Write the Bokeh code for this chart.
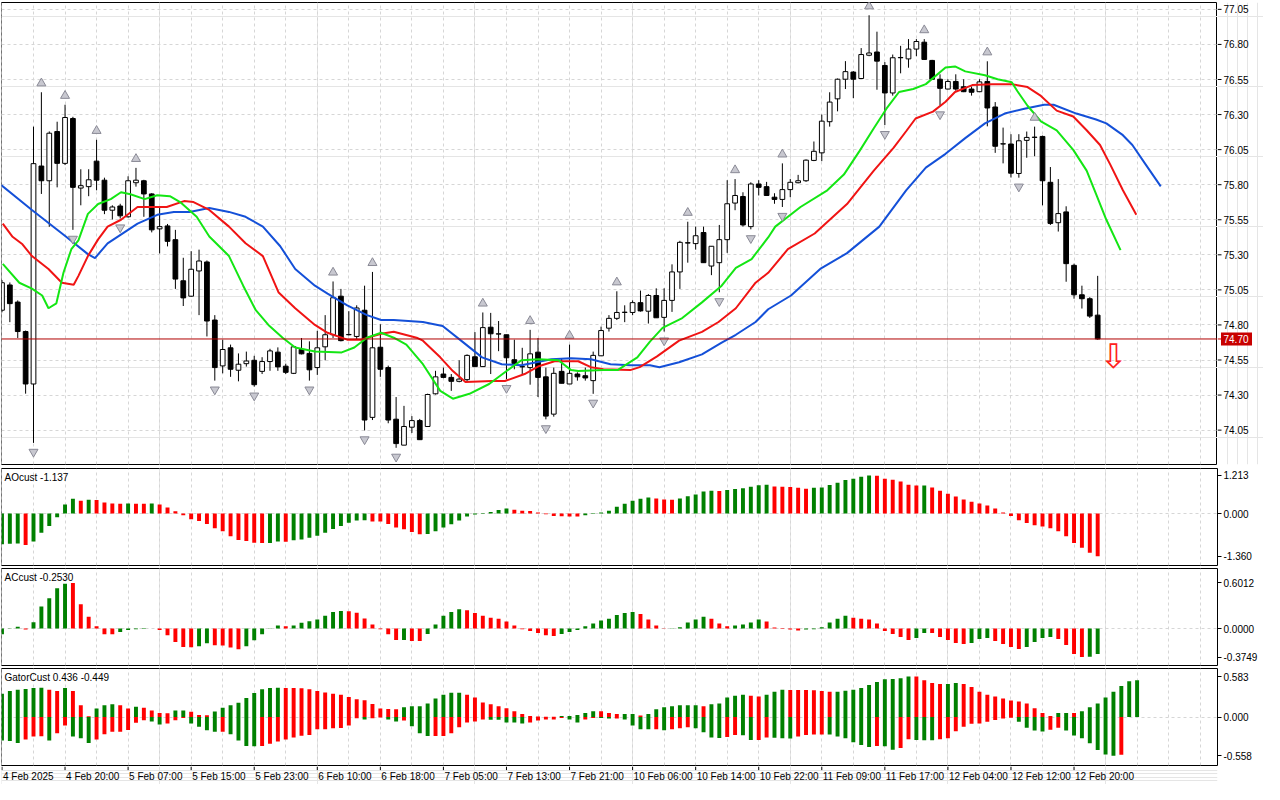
from bokeh.plotting import figure
from bokeh.layouts import column, row
from bokeh.models import Range1d, FixedTicker, Span, Label, Grid, ColumnDataSource, PrintfTickFormatter
from bokeh.core.properties import value
from bokeh.embed import file_html
from bokeh.resources import INLINE

# ---------------- data ----------------
open_ = [74.905, 75.085, 74.963, 74.753, 74.379, 75.933, 75.828, 76.179, 75.952, 76.272,
         75.776, 75.786, 75.968, 75.832, 75.618, 75.648, 75.571, 75.814, 75.828, 75.734,
         75.485, 75.506, 75.408, 75.115, 75.005, 75.185, 75.249, 74.835, 74.508, 74.637,
         74.477, 74.524, 74.548, 74.469, 74.539, 74.606, 74.506, 74.455, 74.625, 74.597,
         74.496, 74.644, 74.730, 75.005, 74.730, 74.718, 74.905, 74.141, 74.641, 74.496,
         74.128, 73.943, 74.071, 74.118, 74.076, 74.309, 74.450, 74.426, 74.398, 74.410,
         74.573, 74.503, 74.784, 74.735, 74.730, 74.552, 74.501, 74.496, 74.606, 74.430,
         74.164, 74.469, 74.379, 74.450, 74.438, 74.403, 74.580, 74.777, 74.847, 74.889,
         74.889, 74.959, 74.898, 75.010, 74.854, 74.975, 75.178, 75.386, 75.380, 75.459,
         75.220, 75.244, 75.408, 75.669, 75.716, 75.501, 75.805, 75.786, 75.711, 75.695,
         75.765, 75.814, 75.828, 75.973, 76.027, 76.249, 76.412, 76.552, 76.603, 76.557,
         76.723, 76.746, 76.650, 76.454, 76.705, 76.697, 76.767, 76.816, 76.686, 76.552,
         76.482, 76.536, 76.498, 76.482, 76.463, 76.536, 76.354, 76.090, 76.090, 75.880,
         76.116, 76.137, 76.144, 75.817, 75.529, 75.606, 75.225, 75.015, 74.987, 74.870]
high = [75.120, 75.103, 74.975, 74.760, 76.214, 76.459, 76.180, 76.249, 76.370, 76.284,
        75.910, 75.910, 76.120, 75.850, 75.653, 75.664, 75.860, 75.920, 75.835, 75.740,
        75.641, 75.520, 75.478, 75.279, 75.326, 75.337, 75.260, 74.870, 74.695, 74.660,
        74.597, 74.610, 74.580, 74.570, 74.630, 74.640, 74.524, 74.650, 74.707, 74.683,
        74.758, 74.870, 75.110, 75.057, 74.898, 74.940, 75.080, 75.178, 74.805, 74.510,
        74.286, 74.223, 74.150, 74.130, 74.310, 74.473, 74.496, 74.450, 74.548, 74.590,
        74.749, 74.889, 74.886, 74.828, 74.730, 74.695, 74.637, 74.765, 74.707, 74.496,
        74.496, 74.562, 74.660, 74.462, 74.496, 74.610, 74.788, 74.870, 75.040, 74.940,
        74.975, 75.045, 75.020, 75.061, 75.061, 75.232, 75.400, 75.536, 75.501, 75.501,
        75.361, 75.513, 75.832, 75.840, 75.746, 75.817, 75.832, 75.820, 75.739, 75.952,
        75.840, 75.870, 75.980, 76.108, 76.300, 76.459, 76.557, 76.681, 76.610, 76.774,
        77.008, 76.891, 76.674, 76.728, 76.790, 76.838, 76.838, 76.838, 76.690, 76.587,
        76.552, 76.587, 76.552, 76.500, 76.552, 76.680, 76.389, 76.207, 76.160, 76.160,
        76.179, 76.214, 76.150, 75.926, 75.840, 75.646, 75.237, 75.080, 74.998, 75.150]
low = [74.890, 74.820, 74.707, 74.310, 73.959, 75.734, 75.500, 75.781, 75.940, 75.478,
       75.653, 75.718, 75.760, 75.590, 75.552, 75.559, 75.566, 75.786, 75.571, 75.460,
       75.310, 75.360, 75.057, 74.935, 75.000, 74.870, 74.718, 74.403, 74.455, 74.430,
       74.398, 74.503, 74.360, 74.450, 74.473, 74.473, 74.450, 74.450, 74.590, 74.403,
       74.444, 74.548, 74.707, 74.683, 74.725, 74.700, 74.048, 74.122, 74.430, 74.099,
       73.924, 73.943, 74.030, 73.980, 74.076, 74.304, 74.420, 74.330, 74.391, 74.400,
       74.503, 74.500, 74.450, 74.613, 74.414, 74.484, 74.444, 74.374, 74.286, 74.127,
       74.146, 74.384, 74.379, 74.403, 74.403, 74.309, 74.580, 74.753, 74.835, 74.820,
       74.870, 74.895, 74.810, 74.851, 74.753, 74.893, 75.057, 75.244, 75.337, 75.244,
       75.155, 75.033, 75.314, 75.618, 75.501, 75.482, 75.723, 75.720, 75.664, 75.641,
       75.711, 75.810, 75.820, 75.968, 75.968, 76.214, 76.323, 76.482, 76.417, 76.557,
       76.716, 76.477, 76.225, 76.435, 76.594, 76.634, 76.716, 76.690, 76.550, 76.365,
       76.480, 76.470, 76.460, 76.435, 76.460, 76.216, 76.027, 75.952, 75.851, 75.850,
       75.992, 76.003, 75.653, 75.513, 75.466, 75.108, 74.987, 74.917, 74.850, 74.695]
close = [75.101, 74.952, 74.753, 74.379, 75.950, 75.828, 76.167, 75.952, 76.279, 75.781,
         75.793, 75.835, 75.832, 75.618, 75.641, 75.578, 75.828, 75.832, 75.734, 75.478,
         75.501, 75.396, 75.127, 74.993, 75.197, 75.256, 74.828, 74.496, 74.625, 74.484,
         74.520, 74.543, 74.374, 74.539, 74.615, 74.501, 74.462, 74.644, 74.594, 74.480,
         74.637, 74.730, 74.994, 74.688, 74.732, 74.921, 74.122, 74.637, 74.484, 74.122,
         73.954, 74.076, 74.118, 73.982, 74.304, 74.430, 74.426, 74.398, 74.414, 74.583,
         74.503, 74.781, 74.737, 74.737, 74.566, 74.524, 74.503, 74.594, 74.426, 74.150,
         74.455, 74.384, 74.455, 74.430, 74.422, 74.583, 74.760, 74.847, 74.889, 74.891,
         74.959, 74.900, 75.010, 74.851, 74.975, 75.178, 75.389, 75.384, 75.436, 75.244,
         75.361, 75.408, 75.664, 75.723, 75.513, 75.805, 75.781, 75.723, 75.695, 75.765,
         75.817, 75.828, 75.975, 76.038, 76.253, 76.389, 76.552, 76.606, 76.552, 76.728,
         76.739, 76.681, 76.454, 76.705, 76.707, 76.767, 76.821, 76.693, 76.552, 76.487,
         76.536, 76.482, 76.463, 76.459, 76.533, 76.347, 76.074, 76.092, 75.882, 76.113,
         76.137, 76.139, 75.828, 75.524, 75.594, 75.237, 75.015, 74.987, 74.863, 74.700]

# Alligator lines (bar index, price)
jaw_x = [-0.1, 3.8, 8.1, 10.9, 11.8, 13.4, 17.2, 19.7, 21.8, 23.8, 26.3, 28.8, 30.9, 33.1, 35.3, 37.2,
         39.7, 41.3, 43.8, 46.3, 48.1, 49.7, 53.4, 55.9, 58.4, 60.9, 63.4, 65.9, 69.7, 72.2, 74.7, 77.2,
         79.7, 82.2, 83.4, 85.9, 88.8, 91.3, 93.1, 95.6, 97.2, 100.1, 103.8, 107.2, 111.3, 114.7, 117.2,
         119.7, 122.2, 124.7, 127.2, 129.7, 132.2, 133.4, 136.3, 138.8, 140.1, 142.2, 143.4, 145.1, 147.0]
jaw_y = [75.797, 75.620, 75.431, 75.305, 75.277, 75.382, 75.522, 75.585, 75.606, 75.606, 75.634, 75.606,
         75.571, 75.501, 75.361, 75.199, 75.080, 75.024, 74.940, 74.870, 74.835, 74.835, 74.821, 74.793,
         74.681, 74.569, 74.520, 74.513, 74.555, 74.562, 74.555, 74.520, 74.513, 74.513, 74.499, 74.534,
         74.590, 74.674, 74.730, 74.821, 74.912, 75.010, 75.199, 75.312, 75.501, 75.760, 75.922, 76.020,
         76.132, 76.237, 76.307, 76.342, 76.370, 76.370, 76.307, 76.265, 76.237, 76.153, 76.083, 75.943,
         75.788]
teeth_x = [0.1, 1.3, 2.6, 3.8, 5.9, 7.6, 9.1, 9.7, 10.9, 12.2, 13.4, 15.1, 17.2, 20.9, 23.1, 24.3, 26.3,
           28.8, 30.9, 33.1, 35.1, 37.2, 39.7, 41.3, 43.8, 45.6, 46.8, 48.1, 49.7, 52.6, 53.4, 55.6, 57.2,
           58.8, 62.2, 63.8, 66.3, 68.1, 70.1, 73.1, 74.7, 76.3, 79.7, 80.9, 83.1, 85.9, 88.8, 90.9, 93.1,
           95.6, 97.2, 99.7, 103.1, 107.2, 110.6, 113.1, 114.7, 115.9, 118.1, 119.7, 120.9, 123.1, 125.6,
           128.1, 130.1, 131.8, 133.8, 135.9, 137.6, 139.3, 140.6, 142.2, 143.9]
teeth_y = [75.522, 75.431, 75.375, 75.291, 75.199, 75.101, 75.087, 75.150, 75.291, 75.410, 75.501, 75.550,
           75.641, 75.641, 75.683, 75.676, 75.620, 75.501, 75.382, 75.291, 75.031, 74.919, 74.800, 74.744,
           74.695, 74.695, 74.716, 74.737, 74.751, 74.709, 74.688, 74.569, 74.471, 74.393, 74.400, 74.400,
           74.450, 74.506, 74.541, 74.541, 74.499, 74.485, 74.478, 74.499, 74.576, 74.688, 74.751, 74.821,
           74.919, 75.101, 75.172, 75.340, 75.452, 75.662, 75.900, 76.062, 76.181, 76.272, 76.321, 76.391,
           76.461, 76.510, 76.517, 76.517, 76.496, 76.433, 76.328, 76.286, 76.188, 76.083, 75.943, 75.760,
           75.585]
lips_x = [0.1, 2.2, 3.8, 5.1, 5.9, 6.9, 7.8, 8.8, 9.7, 10.9, 12.2, 13.8, 15.1, 16.3, 18.1, 19.7, 21.3,
          22.6, 24.7, 26.3, 28.8, 30.6, 32.2, 33.8, 35.6, 37.2, 39.7, 43.1, 44.7, 46.3, 48.1, 49.7, 51.3,
          53.4, 55.6, 57.2, 59.3, 61.8, 63.8, 65.9, 68.1, 70.6, 72.2, 73.1, 76.3, 78.1, 80.6, 82.2, 83.8,
          86.3, 88.8, 91.3, 93.1, 95.1, 97.2, 98.1, 101.3, 104.7, 106.8, 108.8, 110.6, 112.2, 113.8, 115.6,
          117.2, 119.7, 120.9, 122.2, 124.7, 126.3, 128.1, 128.8, 130.1, 131.8, 133.8, 135.9, 137.6, 138.8,
          140.1, 141.9]
lips_y = [75.235, 75.101, 75.059, 75.010, 74.919, 74.954, 75.172, 75.340, 75.403, 75.592, 75.662, 75.697,
          75.746, 75.732, 75.697, 75.725, 75.718, 75.676, 75.571, 75.431, 75.291, 75.080, 74.905, 74.800,
          74.709, 74.639, 74.611, 74.604, 74.639, 74.709, 74.744, 74.709, 74.660, 74.520, 74.330, 74.274,
          74.309, 74.379, 74.463, 74.548, 74.555, 74.548, 74.478, 74.471, 74.478, 74.478, 74.569, 74.681,
          74.779, 74.849, 74.961, 75.080, 75.207, 75.270, 75.424, 75.501, 75.641, 75.760, 75.872, 76.041,
          76.202, 76.342, 76.461, 76.482, 76.517, 76.636, 76.643, 76.608, 76.580, 76.552, 76.531, 76.468,
          76.363, 76.251, 76.188, 76.048, 75.900, 75.732, 75.550, 75.333]

fractal_up = [5, 8, 12, 17, 42, 47, 61, 67, 72, 78, 87, 93, 99, 110, 117, 125, 131]
fractal_dn = [4, 9, 15, 27, 32, 39, 46, 50, 64, 69, 75, 84, 91, 95, 99, 112, 119, 129]
sell_bar = 141
last_price = 74.70

ao = [-0.98, -0.96, -0.955, -1.00, -0.89, -0.61, -0.40, -0.12, 0.29, 0.47,
      0.41, 0.44, 0.435, 0.35, 0.32, 0.315, 0.32, 0.315, 0.31, 0.32,
      0.29, 0.19, 0.07, -0.05, -0.18, -0.24, -0.33, -0.47, -0.56, -0.72,
      -0.84, -0.87, -0.93, -0.94, -0.935, -0.89, -0.895, -0.85, -0.83, -0.77,
      -0.71, -0.61, -0.49, -0.40, -0.29, -0.22, -0.215, -0.25, -0.255, -0.33,
      -0.44, -0.50, -0.59, -0.655, -0.65, -0.56, -0.44, -0.34, -0.22, -0.09,
      -0.03, 0.02, 0.05, 0.11, 0.16, 0.12, 0.09, 0.085, 0.03, -0.02,
      -0.08, -0.085, -0.09, -0.095, -0.05, -0.01, 0.03, 0.09, 0.22, 0.31,
      0.41, 0.47, 0.51, 0.48, 0.45, 0.44, 0.48, 0.55, 0.61, 0.70,
      0.73, 0.72, 0.75, 0.78, 0.81, 0.85, 0.90, 0.92, 0.86, 0.85,
      0.845, 0.82, 0.79, 0.82, 0.83, 0.91, 0.98, 1.07, 1.11, 1.17,
      1.213, 1.205, 1.11, 1.08, 1.02, 0.92, 0.89, 0.895, 0.83, 0.73,
      0.63, 0.54, 0.45, 0.38, 0.32, 0.26, 0.16, 0.03, -0.08, -0.21,
      -0.30, -0.37, -0.41, -0.47, -0.56, -0.72, -0.94, -1.09, -1.25, -1.36]
ao_dir = ("gggrgggggg" "rgrrrrgrrg" "rrrrrrrrrr" "rrrrggrggg" "gggggggrrr"
          "rrrrgggggg" "gggggrrrrr" "rrrrgggggg" "gggrrrgggg" "grggggggrr"
          "rrrggggggg" "grrrrrrgrr" "rrrrrrrrrr" "rrrrrrrrrr")

ac = [-0.075, 0.005, 0.025, -0.013, 0.083, 0.29, 0.40, 0.53, 0.59, 0.6012,
      0.32, 0.155, 0.03, -0.075, -0.076, -0.044, -0.018, -0.008, -0.004, 0.002,
      -0.018, -0.088, -0.176, -0.243, -0.247, -0.234, -0.194, -0.22, -0.222, -0.25,
      -0.273, -0.233, -0.154, -0.075, 0.003, 0.042, 0.03, 0.042, 0.076, 0.097,
      0.118, 0.168, 0.218, 0.231, 0.229, 0.21, 0.134, 0.055, -0.009, -0.075,
      -0.15, -0.149, -0.163, -0.165, -0.07, 0.055, 0.168, 0.218, 0.256, 0.243,
      0.206, 0.168, 0.143, 0.13, 0.092, 0.042, -0.008, -0.031, -0.057, -0.088,
      -0.097, -0.07, -0.044, -0.018, 0.03, 0.067, 0.105, 0.13, 0.18, 0.206,
      0.218, 0.193, 0.118, 0.042, -0.002, 0.004, 0.017, 0.08, 0.118, 0.155,
      0.13, 0.067, 0.03, 0.042, 0.055, 0.08, 0.118, 0.092, 0.013, -0.005,
      -0.013, -0.026, -0.013, -0.009, 0.017, 0.08, 0.13, 0.168, 0.143, 0.13,
      0.118, 0.067, -0.031, -0.07, -0.11, -0.15, -0.123, -0.057, -0.058, -0.11,
      -0.15, -0.19, -0.203, -0.19, -0.136, -0.123, -0.163, -0.203, -0.242, -0.268,
      -0.242, -0.176, -0.123, -0.11, -0.136, -0.216, -0.335, -0.3749, -0.372, -0.335]
ac_dir = ("gggrgggggr" "rrrrrggggg" "rrrrrggrrr" "rgggggrggg" "ggggrrrrrr"
          "rgrrgggggr" "rrrrrrrrrr" "rggggggggg" "grrrrggggg" "rrrggggrrr"
          "rrggggggrr" "rrrrrrggrr" "rrrgggrrrr" "ggggrrrrgg")

gator_up = [0.336, 0.373, 0.391, 0.405, 0.419, 0.420, 0.391, 0.373, 0.419, 0.373,
            0.168, 0.010, 0.121, 0.168, 0.182, 0.168, 0.121, 0.149, 0.135, 0.093,
            0.056, 0.055, 0.093, 0.095, 0.075, 0.028, 0.027, 0.079, 0.135, 0.168,
            0.205, 0.275, 0.345, 0.401, 0.419, 0.420, 0.418, 0.417, 0.416, 0.401,
            0.373, 0.354, 0.336, 0.322, 0.289, 0.256, 0.242, 0.186, 0.121, 0.115,
            0.112, 0.140, 0.154, 0.155, 0.196, 0.266, 0.322, 0.350, 0.351, 0.322,
            0.280, 0.210, 0.182, 0.154, 0.126, 0.084, 0.042, 0.014, 0.006, 0.004,
            0.002, 0.014, 0.015, 0.028, 0.056, 0.084, 0.083, 0.056, 0.042, 0.043,
            0.044, 0.020, 0.042, 0.112, 0.140, 0.154, 0.168, 0.169, 0.170, 0.154,
            0.182, 0.196, 0.280, 0.308, 0.322, 0.308, 0.294, 0.322, 0.363, 0.391,
            0.390, 0.389, 0.388, 0.387, 0.373, 0.363, 0.364, 0.377, 0.391, 0.419,
            0.461, 0.503, 0.545, 0.546, 0.559, 0.583, 0.582, 0.531, 0.489, 0.475,
            0.476, 0.489, 0.475, 0.433, 0.363, 0.322, 0.294, 0.266, 0.238, 0.224,
            0.196, 0.126, 0.056, 0.014, 0.056, 0.057, 0.056, 0.084, 0.140, 0.196,
            0.280, 0.363, 0.447, 0.517, 0.531]
gator_up_dir = ("ggggggrrgr" "rrgggrrgrr" "rrggrrrggg" "ggggggrrrr" "rrrrrrrrrr"
                "rggggggggr" "rrrrrrrrrr" "rgggggrrrg" "grgggggggr" "gggggrrggg"
                "rrrrrrgggg" "ggggggrrrr" "ggrrrrrrrr" "rrrrggrggg" "ggggg")
gator_dn = [-0.340, -0.345, -0.373, -0.326, -0.280, -0.279, -0.340, -0.233, -0.121, -0.280,
            -0.308, -0.373, -0.326, -0.247, -0.214, -0.213, -0.186, -0.084, -0.047, -0.065,
            -0.107, -0.093, -0.047, -0.014, -0.093, -0.140, -0.191, -0.214, -0.213, -0.247,
            -0.340, -0.419, -0.420, -0.419, -0.387, -0.354, -0.326, -0.294, -0.270, -0.261,
            -0.177, -0.176, -0.163, -0.158, -0.121, -0.019, -0.037, -0.019, -0.008, -0.037,
            -0.065, -0.051, -0.135, -0.233, -0.275, -0.274, -0.273, -0.233, -0.149, -0.079,
            -0.065, -0.037, -0.038, -0.039, -0.079, -0.080, -0.093, -0.079, -0.051, -0.037,
            -0.036, -0.014, -0.037, -0.079, -0.037, -0.014, -0.015, -0.023, -0.022, -0.037,
            -0.121, -0.177, -0.178, -0.177, -0.191, -0.177, -0.163, -0.149, -0.163, -0.219,
            -0.294, -0.303, -0.289, -0.261, -0.262, -0.331, -0.330, -0.294, -0.298, -0.308,
            -0.309, -0.280, -0.261, -0.252, -0.251, -0.252, -0.280, -0.308, -0.363, -0.405,
            -0.433, -0.419, -0.420, -0.471, -0.447, -0.321, -0.330, -0.335, -0.336, -0.321,
            -0.308, -0.205, -0.140, -0.098, -0.093, -0.070, -0.042, -0.023, -0.010, -0.070,
            -0.154, -0.196, -0.210, -0.182, -0.154, -0.196, -0.266, -0.308, -0.377, -0.475,
            -0.541, -0.558, -0.545]
gator_dn_dir = ("gggrrrgrrg" "ggrrrrrrrg" "grrrggggrg" "gggrrrrrrr" "rrrrrrgrrg"
                "grgggrrrrr" "rrgggggrrr" "rrggrrggrg" "gggrgrrrgg" "ggrrggrrgg"
                "grrrrggggg" "grggrrgggr" "rrrrrrrrrg" "gggrrggggg" "ggr")

price_ticks = [74.05, 74.30, 74.55, 74.80, 75.05, 75.30, 75.55, 75.80, 76.05, 76.30, 76.55, 76.80, 77.05]
ao_ticks = [-1.360, 0.0, 1.213]
ac_ticks = [-0.3749, 0.0, 0.6012]
gator_ticks = [-0.558, 0.0, 0.583]
time_ticks = [0, 8, 16, 24, 32, 40, 48, 56, 64, 72, 80, 88, 96, 104, 112, 120, 128, 136]
time_labels = ["4 Feb 2025", "4 Feb 20:00", "5 Feb 07:00", "5 Feb 15:00", "5 Feb 23:00",
               "6 Feb 10:00", "6 Feb 18:00", "7 Feb 05:00", "7 Feb 13:00", "7 Feb 21:00",
               "10 Feb 06:00", "10 Feb 14:00", "10 Feb 22:00", "11 Feb 09:00", "11 Feb 17:00",
               "12 Feb 04:00", "12 Feb 12:00", "12 Feb 20:00"]
ao_title = "AOcust -1.137"
ac_title = "ACcust -0.2530"
gator_title = "GatorCust 0.436 -0.449"

# ---------------- styling ----------------
FONT = "Liberation Sans"
FS = "10px"
GREEN = "#008000"
RED = "#ff0000"
GRID = "#d6d6d6"
FRAME_W = 1216
BORDER_L = 1
BORDER_R = 46
TOTAL_W = BORDER_L + FRAME_W + BORDER_R
X0, X1 = -0.06, 154.2

xr = Range1d(X0, X1)
vgrid_ticks = list(range(0, 155, 4))


def base_fig(width, height, x_range, y_range, left, right, top, bottom, outline=True):
    p = figure(width=width, height=height, x_range=x_range, y_range=y_range,
               x_axis_location=None, y_axis_location=None, toolbar_location=None,
               output_backend="svg", min_border_left=left, min_border_right=right,
               min_border_top=top, min_border_bottom=bottom)
    p.outline_line_color = "black" if outline else None
    p.outline_line_width = 1
    p.background_fill_color = "white"
    p.border_fill_color = "white"
    return p


def add_grids(p, hticks):
    p.add_layout(Grid(dimension=1, ticker=FixedTicker(ticks=hticks),
                      grid_line_color=GRID, grid_line_dash="3 3"))
    p.add_layout(Grid(dimension=0, ticker=FixedTicker(ticks=vgrid_ticks),
                      grid_line_color=GRID, grid_line_dash="3 3"))


def panel(height, y0, y1, ticks, fmt, top=2, bottom=1):
    p = figure(width=TOTAL_W, height=height, x_range=xr, y_range=Range1d(y0, y1),
               x_axis_location=None, y_axis_location="right", toolbar_location=None,
               output_backend="svg", min_border_left=BORDER_L, min_border_right=BORDER_R,
               min_border_top=top, min_border_bottom=bottom)
    p.outline_line_color = "black"
    p.outline_line_width = 1
    p.background_fill_color = "white"
    p.border_fill_color = "white"
    ax = p.yaxis[0]
    ax.ticker = FixedTicker(ticks=ticks)
    ax.formatter = PrintfTickFormatter(format=fmt)
    ax.axis_line_color = None
    ax.major_tick_out = 4
    ax.major_tick_in = 0
    ax.major_tick_line_color = "black"
    ax.minor_tick_line_color = None
    ax.major_label_standoff = 2
    ax.major_label_text_font = FONT
    ax.major_label_text_font_size = FS
    ax.major_label_text_color = "black"
    p.ygrid.ticker = FixedTicker(ticks=[0.0])
    p.ygrid.grid_line_color = GRID
    p.ygrid.grid_line_dash = "3 3"
    p.add_layout(Grid(dimension=0, ticker=FixedTicker(ticks=vgrid_ticks),
                      grid_line_color=GRID, grid_line_dash="3 3"))
    return p


# ---------------- main price panel ----------------
MAIN_H = 466
main_frame_h = MAIN_H - 4
P0, P1 = 73.805, 77.099
yr_main = Range1d(P0, P1)
pm = base_fig(BORDER_L + FRAME_W, MAIN_H, xr, yr_main, BORDER_L, 0, 2, 2)
add_grids(pm, price_ticks)

idx = list(range(len(close)))
src = ColumnDataSource(dict(
    x=idx, o=open_, h=high, l=low, c=close,
    top=[max(a, b) for a, b in zip(open_, close)],
    bot=[min(a, b) for a, b in zip(open_, close)],
    fill=["white" if c >= o else "black" for o, c in zip(open_, close)],
))
pm.segment(x0="x", y0="h", x1="x", y1="l", source=src, line_color="black", line_width=1)
pm.vbar(x="x", top="top", bottom="bot", width=0.6, source=src,
        fill_color="fill", line_color="black", line_width=1)

pm.line(jaw_x, jaw_y, line_color="#1450d8", line_width=2)
pm.line(teeth_x, teeth_y, line_color="#f01414", line_width=2)
pm.line(lips_x, lips_y, line_color="#14e614", line_width=2)

px_per_price = main_frame_h / (P1 - P0)
pad = 9 / px_per_price
pm.scatter(fractal_up, [high[i] + pad for i in fractal_up], marker="triangle",
           size=9, fill_color="#c8c8d0", line_color="#8a8a96", line_width=1)
pm.scatter(fractal_dn, [low[i] - pad for i in fractal_dn], marker="inverted_triangle",
           size=9, fill_color="#c8c8d0", line_color="#8a8a96", line_width=1)

pm.add_layout(Span(location=last_price, dimension="width", line_color="#b00000", line_width=1))
pm.text(x=[sell_bar], y=[last_price], text=["\u21e9"], text_color="#ff2020",
        text_font=value("DejaVu Sans"), text_font_size="34px", text_align="center",
        text_baseline="top", y_offset=-3)

# right price scale of the main panel (drawn in its own strip so the price tag can sit on it)
pax = base_fig(BORDER_R, MAIN_H, Range1d(0, BORDER_R), yr_main, 0, 0, 2, 2, outline=False)
pax.segment(x0=[0] * len(price_ticks), y0=price_ticks, x1=[4] * len(price_ticks), y1=price_ticks,
            line_color="black", line_width=1)
pax.text(x=[6] * len(price_ticks), y=price_ticks, text=["%.2f" % t for t in price_ticks],
         text_align="left", text_baseline="middle", text_font=value(FONT), text_font_size=FS,
         text_color="black")
pax.rect(x=[19], y=[last_price], width=31, height=13, height_units="screen",
         fill_color="#c80000", line_color=None)
pax.segment(x0=[0], y0=[last_price], x1=[4], y1=[last_price], line_color="#c80000", line_width=1)
pax.text(x=[6], y=[last_price], text=["%.2f" % last_price], text_align="left",
         text_baseline="middle", text_font=value(FONT), text_font_size=FS, text_color="white")


def hist_panel(vals, dirs, y0, y1, ticks, fmt, title, height=100, top=2, bottom=1):
    p = panel(height, y0, y1, ticks, fmt, top=top, bottom=bottom)
    cols = [GREEN if d == "g" else RED for d in dirs]
    p.vbar(x=list(range(len(vals))), top=vals, bottom=0, width=0.5,
           fill_color=cols, line_color=None)
    p.add_layout(Label(x=X0, y=y1, x_offset=3, y_offset=-3, text=title, text_baseline="top",
                       text_align="left", text_font=FONT, text_font_size=FS, text_color="black"))
    return p


pao = hist_panel(ao, ao_dir, -1.654, 1.435, ao_ticks, "%.3f", ao_title)
pac = hist_panel(ac, ac_dir, -0.486, 0.791, ac_ticks, "%.4f", ac_title)

pg = panel(100, -0.699, 0.699, gator_ticks, "%.3f", top=2, bottom=1)
pg.vbar(x=list(range(len(gator_up))), top=gator_up, bottom=0, width=0.5,
        fill_color=[GREEN if d == "g" else RED for d in gator_up_dir], line_color=None)
pg.vbar(x=list(range(len(gator_dn))), top=0, bottom=gator_dn, width=0.5,
        fill_color=[GREEN if d == "g" else RED for d in gator_dn_dir], line_color=None)
pg.add_layout(Label(x=X0, y=0.699, x_offset=3, y_offset=-3, text=gator_title, text_baseline="top",
                    text_align="left", text_font=FONT, text_font_size=FS, text_color="black"))

# ---------------- time axis strip ----------------
pt = base_fig(TOTAL_W, 18, xr, Range1d(0, 1), BORDER_L, BORDER_R, 0, 0, outline=False)
pt.segment(x0=time_ticks, y0=[1.0] * len(time_ticks), x1=time_ticks, y1=[0.8] * len(time_ticks),
           line_color="black", line_width=1)
pt.text(x=time_ticks, y=[0.45] * len(time_ticks), text=time_labels, text_align="left",
        text_baseline="middle", x_offset=1, text_font=value(FONT), text_font_size=FS,
        text_color="black")

layout = column(row(pm, pax, spacing=0), pao, pac, pg, pt, spacing=0)
open("out.html", "w").write(file_html(layout, INLINE))
